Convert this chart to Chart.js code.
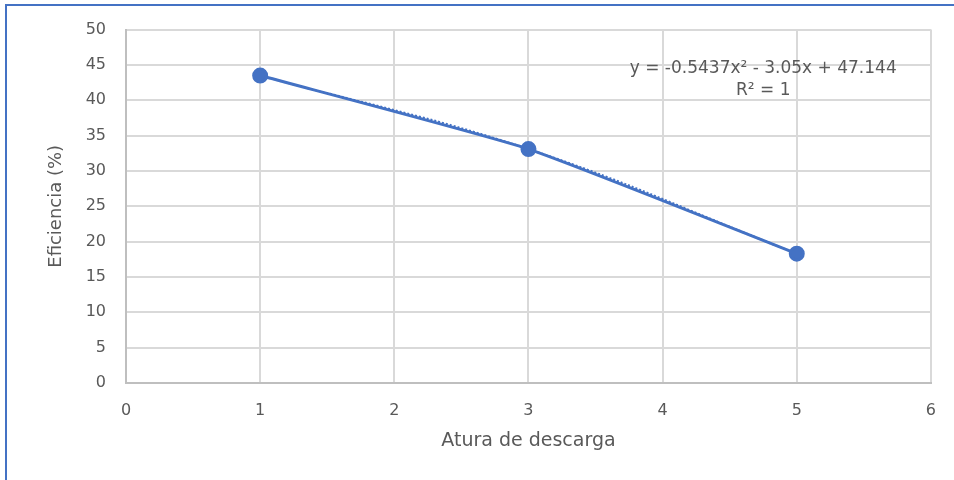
<!DOCTYPE html>
<html>
<head>
<meta charset="utf-8">
<script src="https://cdn.jsdelivr.net/npm/chart.js@4/dist/chart.umd.min.js"></script>
<style>
  body { margin: 0; background: #fff; }
  #wrap { position: relative; width: 954px; height: 480px; }
  #frame { position: absolute; left: 5px; top: 4px; right: 0; bottom: 0; border-left: 2px solid #4472c4; border-top: 2px solid #4472c4; pointer-events: none; }
</style>
</head>
<body>
<div id="wrap">
  <canvas id="chart" width="954" height="480"></canvas>
  <div id="frame"></div>
</div>
<script>
// data
const alturas = [1, 3, 5];
const eficiencia = [43.5, 33.1, 18.3];
const equationLines = ['y = -0.5437x\u00b2 - 3.05x + 47.144', 'R\u00b2 = 1'];
const equationAt = { x: 4.75, y: 44.5 };

const blue = '#4472c4';
const grey = '#595959';
const fontFam = "'DejaVu Sans', 'Open Sans', sans-serif";

const points = alturas.map((x, i) => ({ x: x, y: eficiencia[i] }));

// trendline label
const equationLabel = {
  id: 'equationLabel',
  afterDatasetsDraw(chart) {
    const { ctx, scales } = chart;
    const px = scales.x.getPixelForValue(equationAt.x);
    const py = scales.y.getPixelForValue(equationAt.y);
    ctx.save();
    ctx.fillStyle = grey;
    ctx.font = '17px ' + fontFam;
    ctx.textAlign = 'center';
    ctx.textBaseline = 'middle';
    equationLines.forEach((t, i) => ctx.fillText(t, px, py + i * 22));
    ctx.restore();
  }
};

new Chart(document.getElementById('chart'), {
  type: 'scatter',
  data: {
    datasets: [
      {
        label: 'Eficiencia',
        data: points,
        showLine: true,
        borderColor: blue,
        backgroundColor: blue,
        borderWidth: 3,
        tension: 0.15,
        pointRadius: 6.5,
        pointHoverRadius: 6.5
      },
      {
        label: 'Polinomial',
        data: points,
        showLine: true,
        borderColor: blue,
        borderWidth: 2,
        borderDash: [2, 2],
        tension: 0.4,
        pointRadius: 0
      }
    ]
  },
  options: {
    responsive: false,
    animation: false,
    layout: { padding: { left: 0, top: 29, right: 22, bottom: 0 } },
    plugins: { legend: { display: false }, tooltip: { enabled: false } },
    scales: {
      x: {
        type: 'linear',
        min: 0,
        max: 6,
        ticks: { stepSize: 1, color: grey, padding: 18, font: { family: fontFam, size: 16 } },
        grid: { color: '#d9d9d9', lineWidth: 2, drawTicks: false },
        border: { color: '#bfbfbf', width: 2 },
        title: { display: true, text: 'Atura de descarga', color: grey, font: { family: fontFam, size: 19 }, padding: { top: 0, bottom: 28 } },
        afterFit(scale) { scale.height = 97; }
      },
      y: {
        min: 0,
        max: 50,
        ticks: { stepSize: 5, color: grey, padding: 20, font: { family: fontFam, size: 16 } },
        grid: { color: '#d9d9d9', lineWidth: 2, drawTicks: false },
        border: { color: '#bfbfbf', width: 2 },
        title: { display: true, text: 'Eficiencia (%)', color: grey, font: { family: fontFam, size: 18 }, padding: { top: 46, bottom: 0 } },
        afterFit(scale) { scale.width = 126; }
      }
    }
  },
  plugins: [equationLabel]
});
</script>
</body>
</html>
